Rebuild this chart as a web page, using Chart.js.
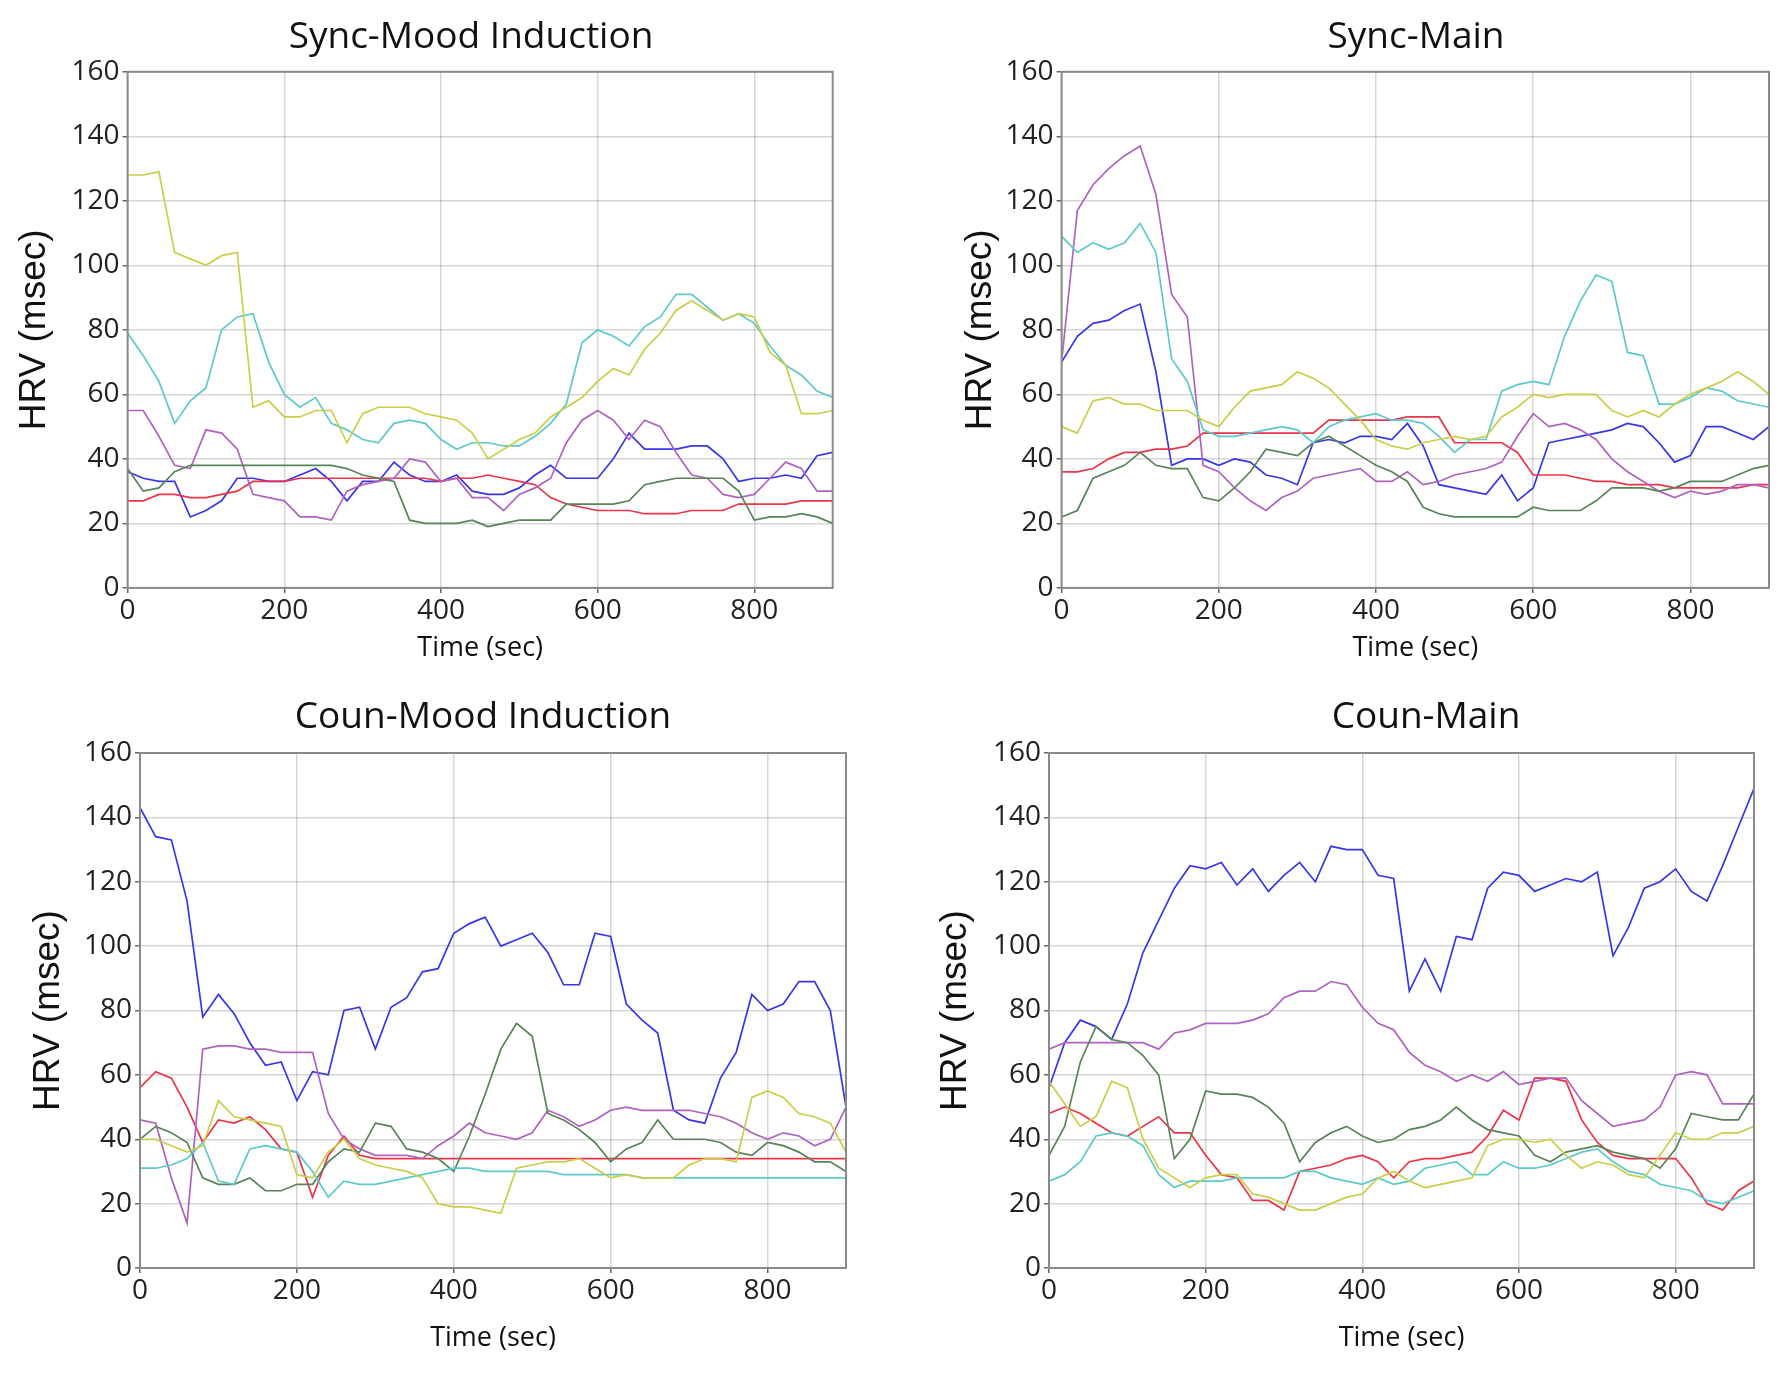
<!DOCTYPE html>
<html>
<head>
<meta charset="utf-8">
<script src="https://cdn.jsdelivr.net/npm/chart.js@4.4.1/dist/chart.umd.min.js"></script>
<style>
  body { margin: 0; background: #fff; }
  #page { position: relative; width: 1786px; height: 1374px; overflow: hidden; }
  .panel { position: absolute; }
  .ptitle { position: absolute; height: 50px; line-height: 50px; transform: translateX(-50%);
            font-family: "Open Sans", sans-serif; font-size: 37px; color: #111; white-space: nowrap; }
</style>
</head>
<body>
<div id="page"></div>
<script>
// sample times (sec)
const times = [0, 20, 40, 60, 80, 100, 120, 140, 160, 180, 200, 220, 240, 260, 280, 300, 320, 340, 360, 380,
  400, 420, 440, 460, 480, 500, 520, 540, 560, 580, 600, 620, 640, 660, 680, 700, 720, 740, 760, 780,
  800, 820, 840, 860, 880, 900];
const xTicks = [0, 200, 400, 600, 800];
const yTicks = [0, 20, 40, 60, 80, 100, 120, 140, 160];

// Sync-Mood Induction
const syncMoodBlue   = [36,34,33,33,22,24,27,34,34,33, 33,35,37,33,27,33,33,39,35,33, 33,35,30,29,29,31,35,38,34,34, 34,40,48,43,43,43,44,44,40,33, 34,34,35,34,41,42];
const syncMoodRed    = [27,27,29,29,28,28,29,30,33,33, 33,34,34,34,34,34,34,34,34,34, 33,34,34,35,34,33,32,28,26,25, 24,24,24,23,23,23,24,24,24,26, 26,26,26,27,27,27];
const syncMoodPurple = [55,55,47,38,37,49,48,43,29,28, 27,22,22,21,30,32,33,34,40,39, 33,34,28,28,24,29,31,34,45,52, 55,52,46,52,50,42,35,34,29,28, 29,34,39,37,30,30];
const syncMoodCyan   = [79,72,64,51,58,62,80,84,85,70, 60,56,59,51,49,46,45,51,52,51, 46,43,45,45,44,44,47,51,57,76, 80,78,75,81,84,91,91,87,83,85, 82,75,69,66,61,59];
const syncMoodYellow = [128,128,129,104,102,100,103,104,56,58, 53,53,55,55,45,54,56,56,56,54, 53,52,48,40,43,46,48,53,56,59, 64,68,66,74,79,86,89,86,83,85, 84,73,69,54,54,55];
const syncMoodGreen  = [37,30,31,36,38,38,38,38,38,38, 38,38,38,38,37,35,34,33,21,20, 20,20,21,19,20,21,21,21,26,26, 26,26,27,32,33,34,34,34,34,30, 21,22,22,23,22,20];

// Sync-Main
const syncMainBlue   = [70,78,82,83,86,88,67,38,40,40, 38,40,39,35,34,32,45,46,45,47, 47,46,51,44,32,31,30,29,35,27, 31,45,46,47,48,49,51,50,45,39, 41,50,50,48,46,50];
const syncMainRed    = [36,36,37,40,42,42,43,43,44,48, 48,48,48,48,48,48,48,52,52,52, 52,52,53,53,53,45,45,45,45,42, 35,35,35,34,33,33,32,32,32,31, 31,31,31,31,32,32];
const syncMainPurple = [70,117,125,130,134,137,122,91,84,38, 36,31,27,24,28,30,34,35,36,37, 33,33,36,32,33,35,36,37,39,47, 54,50,51,49,46,40,36,33,30,28, 30,29,30,32,32,31];
const syncMainCyan   = [109,104,107,105,107,113,104,71,64,49, 47,47,48,49,50,49,45,50,52,53, 54,52,52,51,47,42,46,46,61,63, 64,63,78,89,97,95,73,72,57,57, 59,62,61,58,57,56];
const syncMainYellow = [50,48,58,59,57,57,55,55,55,52, 50,56,61,62,63,67,65,62,57,52, 46,44,43,45,46,47,46,47,53,56, 60,59,60,60,60,55,53,55,53,57, 60,62,64,67,64,60];
const syncMainGreen  = [22,24,34,36,38,42,38,37,37,28, 27,31,36,43,42,41,45,47,44,41, 38,36,33,25,23,22,22,22,22,22, 25,24,24,24,27,31,31,31,30,31, 33,33,33,35,37,38];

// Coun-Mood Induction
const counMoodBlue   = [143,134,133,114,78,85,79,70,63,64, 52,61,60,80,81,68,81,84,92,93, 104,107,109,100,102,104,98,88,88,104, 103,82,77,73,49,46,45,59,67,85, 80,82,89,89,80,50];
const counMoodRed    = [56,61,59,50,39,46,45,47,43,37, 36,22,35,41,35,34,34,34,34,34, 34,34,34,34,34,34,34,34,34,34, 34,34,34,34,34,34,34,34,34,34, 34,34,34,34,34,34];
const counMoodPurple = [46,45,28,14,68,69,69,68,68,67, 67,67,48,40,37,35,35,35,34,38, 41,45,42,41,40,42,49,47,44,46, 49,50,49,49,49,49,48,47,45,42, 40,42,41,38,40,50];
const counMoodCyan   = [31,31,32,34,39,27,26,37,38,37, 36,30,22,27,26,26,27,28,29,30, 31,31,30,30,30,30,30,29,29,29, 29,29,28,28,28,28,28,28,28,28, 28,28,28,28,28,28];
const counMoodYellow = [40,40,38,36,38,52,47,46,45,44, 29,28,36,40,34,32,31,30,28,20, 19,19,18,17,31,32,33,33,34,31, 28,29,28,28,28,32,34,34,33,53, 55,53,48,47,45,36];
const counMoodGreen  = [40,44,42,39,28,26,26,28,24,24, 26,26,33,37,36,45,44,37,36,34, 30,41,54,68,76,72,48,46,43,39, 33,37,39,46,40,40,40,39,36,35, 39,38,36,33,33,30];

// Coun-Main
const counMainBlue   = [56,70,77,75,71,82,98,108,118,125, 124,126,119,124,117,122,126,120,131,130, 130,122,121,86,96,86,103,102,118,123, 122,117,119,121,120,123,97,106,118,120, 124,117,114,125,137,149];
const counMainRed    = [48,50,48,45,42,41,44,47,42,42, 35,29,28,21,21,18,30,31,32,34, 35,33,28,33,34,34,35,36,41,49, 46,59,59,58,46,39,35,34,34,34, 34,28,20,18,24,27];
const counMainPurple = [68,70,70,70,70,70,70,68,73,74, 76,76,76,77,79,84,86,86,89,88, 81,76,74,67,63,61,58,60,58,61, 57,58,59,59,52,48,44,45,46,50, 60,61,60,51,51,51];
const counMainCyan   = [27,29,33,41,42,41,38,29,25,27, 27,27,28,28,28,28,30,30,28,27, 26,28,26,27,31,32,33,29,29,33, 31,31,32,34,36,37,33,30,29,26, 25,24,21,20,22,24];
const counMainYellow = [58,51,44,47,58,56,40,31,28,25, 28,29,29,23,22,20,18,18,20,22, 23,28,30,27,25,26,27,28,38,40, 40,39,40,35,31,33,32,29,28,35, 42,40,40,42,42,44];
const counMainGreen  = [35,44,64,75,71,70,66,60,34,40, 55,54,54,53,50,45,33,39,42,44, 41,39,40,43,44,46,50,46,43,42, 41,35,33,36,37,38,36,35,34,31, 37,48,47,46,46,54];

const colors = {
  blue: 'rgb(55, 55, 232)',
  red: 'rgb(236, 52, 72)',
  purple: 'rgb(176, 98, 192)',
  cyan: 'rgb(92, 202, 202)',
  yellow: 'rgb(202, 206, 72)',
  green: 'rgb(88, 132, 88)'
};

const panels = [
  { title: 'Sync-Mood Induction', box: [0, 0], yw: 127.6, padR: 60.3, padT: 71.8, xh: 99.1, yPad: 12.4, xPad: 22, tx: 471, ty: 34,
    series: { yellow: syncMoodYellow, cyan: syncMoodCyan, green: syncMoodGreen, purple: syncMoodPurple, red: syncMoodRed, blue: syncMoodBlue } },
  { title: 'Sync-Main', box: [893, 0], yw: 168.6, padR: 17, padT: 71.8, xh: 99.1, yPad: 65.4, xPad: 22, tx: 1416, ty: 34,
    series: { yellow: syncMainYellow, cyan: syncMainCyan, green: syncMainGreen, purple: syncMainPurple, red: syncMainRed, blue: syncMainBlue } },
  { title: 'Coun-Mood Induction', box: [0, 687], yw: 140, padR: 47, padT: 66, xh: 106, yPad: 26.4, xPad: 19, tx: 483, ty: 714,
    series: { yellow: counMoodYellow, cyan: counMoodCyan, green: counMoodGreen, purple: counMoodPurple, red: counMoodRed, blue: counMoodBlue } },
  { title: 'Coun-Main', box: [893, 687], yw: 156, padR: 32, padT: 66, xh: 106, yPad: 40.4, xPad: 19, tx: 1426, ty: 714,
    series: { yellow: counMainYellow, cyan: counMainCyan, green: counMainGreen, purple: counMainPurple, red: counMainRed, blue: counMainBlue } }
];

const frame = {
  id: 'frame',
  afterDraw(chart) {
    const { ctx, chartArea: a } = chart;
    ctx.save();
    ctx.strokeStyle = '#8a8a8a';
    ctx.lineWidth = 2;
    ctx.strokeRect(a.left, a.top, a.right - a.left, a.bottom - a.top);
    ctx.restore();
  }
};

const page = document.getElementById('page');

panels.forEach(p => {
  const div = document.createElement('div');
  div.className = 'panel';
  div.style.left = p.box[0] + 'px';
  div.style.top = p.box[1] + 'px';
  div.style.width = '893px';
  div.style.height = '687px';
  const canvas = document.createElement('canvas');
  div.appendChild(canvas);
  page.appendChild(div);

  const t = document.createElement('div');
  t.className = 'ptitle';
  t.style.left = p.tx + 'px';
  t.style.top = (p.ty - 25) + 'px';
  t.textContent = p.title;
  page.appendChild(t);

  const datasets = Object.keys(p.series).map(k => ({
    label: k,
    data: times.map((s, i) => ({ x: s, y: p.series[k][i] })),
    borderColor: colors[k],
    borderWidth: 1.7,
    pointRadius: 0,
    tension: 0,
    fill: false
  }));

  new Chart(canvas, {
    type: 'line',
    data: { datasets },
    options: {
      responsive: true,
      maintainAspectRatio: false,
      animation: false,
      layout: { padding: { top: p.padT, right: p.padR, left: 0, bottom: 0 } },
      plugins: { legend: { display: false }, tooltip: { enabled: false } },
      scales: {
        x: {
          type: 'linear',
          min: 0,
          max: 900,
          afterBuildTicks: axis => { axis.ticks = xTicks.map(v => ({ value: v })); },
          afterFit: axis => { axis.height = p.xh; },
          ticks: { padding: 1, color: '#222', font: { family: 'Open Sans', size: 28 } },
          grid: { color: 'rgba(0,0,0,0.16)', lineWidth: 1.5, tickLength: 5, tickColor: '#666' },
          border: { display: false },
          title: {
            display: true, text: 'Time (sec)', color: '#111',
            font: { family: 'Open Sans', size: 27 }, padding: { top: 0, bottom: p.xPad }
          }
        },
        y: {
          min: 0,
          max: 160,
          afterBuildTicks: axis => { axis.ticks = yTicks.map(v => ({ value: v })); },
          afterFit: axis => { axis.width = p.yw; },
          ticks: { padding: 3, color: '#222', font: { family: 'Open Sans', size: 28 } },
          grid: { color: 'rgba(0,0,0,0.16)', lineWidth: 1.5, tickLength: 5, tickColor: '#666' },
          border: { display: false },
          title: {
            display: true, text: 'HRV (msec)', color: '#111',
            font: { family: 'Liberation Sans', size: 37 }, padding: { top: p.yPad, bottom: 0 }
          }
        }
      }
    },
    plugins: [frame]
  });
});
</script>
</body>
</html>
